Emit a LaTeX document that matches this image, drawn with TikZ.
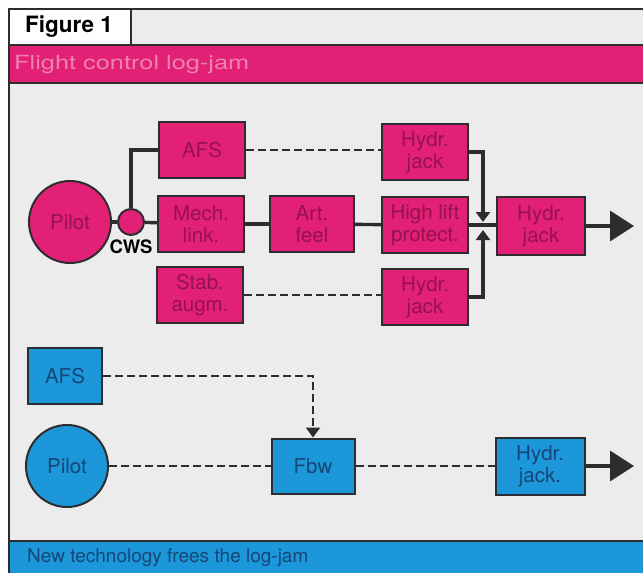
\documentclass[tikz,border=0pt]{standalone}
\usepackage{fontspec}
\setmainfont{TeX Gyre Heros}
\usetikzlibrary{arrows.meta, calc}

\definecolor{jampink}{RGB}{226,32,118}
\definecolor{jampinktext}{RGB}{150,18,78}
\definecolor{bandpinktext}{RGB}{240,130,178}
\definecolor{freeblue}{RGB}{28,152,218}
\definecolor{freebluetext}{RGB}{22,70,120}
\definecolor{panelgrey}{RGB}{236,236,236}
\definecolor{inkgrey}{RGB}{45,45,48}

\begin{document}
\begin{tikzpicture}[
    x=1pt, y=-1pt,
    font=\fontsize{20.5}{22}\selectfont,
    pinkbox/.style={
        rectangle, draw=inkgrey, line width=2pt,
        fill=jampink, text=jampinktext,
        minimum width=86pt, minimum height=56pt, align=center,
        inner sep=1pt
    },
    pinkcircle/.style={
        circle, draw=inkgrey, line width=2pt,
        fill=jampink, text=jampinktext, inner sep=0pt
    },
    bluebox/.style={
        rectangle, draw=inkgrey, line width=2pt,
        fill=freeblue, text=freebluetext,
        minimum width=84pt, minimum height=56pt, align=center,
        inner sep=1pt
    },
    bluecircle/.style={
        circle, draw=inkgrey, line width=2pt,
        fill=freeblue, text=freebluetext, inner sep=0pt
    },
    line/.style={draw=inkgrey, line width=3.4pt},
    dashline/.style={draw=inkgrey, line width=2.6pt, dash pattern=on 8pt off 4pt},
    bigtip/.style={-{Triangle[length=24pt, width=30pt]}},
    smalltip/.style={-{Triangle[length=10pt, width=14pt]}}
]
\useasboundingbox (0,0) rectangle (643,573);

% ---------------------------------------------------------------------
% FRAME AND BANDS
% ---------------------------------------------------------------------
\fill[panelgrey] (8,9) rectangle (643,573);
\fill[white] (8,9) rectangle (131,45);
\fill[jampink] (8,45) rectangle (643,83);
\fill[freeblue] (8,541) rectangle (643,573);
\draw[inkgrey, line width=2.6pt] (9,573) -- (9,9) -- (643,9);
\draw[inkgrey, line width=1.4pt] (131,9) -- (131,45);
\draw[inkgrey, line width=1.4pt] (8,45) -- (643,45);
\draw[inkgrey, line width=1.4pt] (8,83) -- (643,83);
\draw[inkgrey, line width=1.4pt] (8,541) -- (643,541);

\node[anchor=west, inner sep=0pt, font=\fontsize{22.5}{22.5}\selectfont\bfseries] (FigTitle) at (25,27) {Figure 1};
\node[anchor=west, inner sep=0pt, text=bandpinktext, font=\fontsize{19.5}{19.5}\selectfont] (TopCaption) at (14,65) {\scalebox{1.3}[1]{Flight control log-jam}};
\node[anchor=west, inner sep=0pt, text=freebluetext, font=\fontsize{19}{19}\selectfont] (BottomCaption) at (27,558) {New technology frees the log-jam};

% ---------------------------------------------------------------------
% 1. TOP: FLIGHT CONTROL LOG-JAM
% ---------------------------------------------------------------------
\node[pinkcircle, minimum size=82pt] (Pilot) at (70,222) {Pilot};
\node[pinkcircle, minimum size=26pt] (CWS) at (131,222) {};
\node[font=\fontsize{18.5}{18.5}\selectfont\bfseries] (CWSlabel) at (131,247) {CWS};

\node[pinkbox] (AFS) at (202,150) {AFS};
\node[pinkbox] (Mech) at (201,224) {Mech.\\link.};
\node[pinkbox] (Stab) at (200,295) {Stab.\\augm.};
\node[pinkbox, minimum width=84pt] (Art) at (312,224) {Art.\\feel};
\node[pinkbox] (HydrTop) at (425,152) {Hydr.\\jack};
\node[pinkbox] (HighLift) at (425,225) {High lift\\protect.};
\node[pinkbox] (HydrBot) at (425,297) {Hydr.\\jack};
\node[pinkbox, minimum width=88pt, minimum height=58pt] (HydrOut) at (541,226) {Hydr.\\jack};

\coordinate (JunTop) at (483,222);
\coordinate (JunBot) at (483,230);
\coordinate (OutTop) at (634,226);

\draw[line] (Pilot) -- (CWS);
\draw[line] (CWS) -- (Mech);
\draw[line] (CWS.north) |- (AFS.west);
\draw[line] (Mech) -- (Art);
\draw[line] (Art) -- (HighLift);
\draw[line] (HighLift.east) -- (HydrOut.west |- HighLift.east);
\draw[dashline] (AFS.east) -- (AFS.east -| HydrTop.west);
\draw[dashline] (Stab.east) -- (Stab.east -| HydrBot.west);
\draw[line, smalltip] (HydrTop.east) -| (JunTop);
\draw[line, smalltip] (HydrBot.east) -| (JunBot);
\draw[line, bigtip] (HydrOut) -- (OutTop);

% ---------------------------------------------------------------------
% 2. BOTTOM: NEW TECHNOLOGY
% ---------------------------------------------------------------------
\node[bluebox, minimum width=74pt] (AFSnew) at (65,376) {AFS};
\node[bluecircle, minimum size=82pt] (PilotNew) at (67,466) {Pilot};
\node[bluebox, minimum width=83pt, minimum height=55pt] (Fbw) at (313,466) {Fbw};
\node[bluebox, minimum width=89pt, minimum height=57pt] (HydrNew) at (540,466) {Hydr.\\jack.};

\coordinate (OutBot) at (634,466);

\draw[dashline, smalltip] (AFSnew.east) -| (Fbw.north);
\draw[dashline] (PilotNew) -- (Fbw);
\draw[dashline] (Fbw) -- (HydrNew);
\draw[line, bigtip] (HydrNew) -- (OutBot);

\end{tikzpicture}
\end{document}
